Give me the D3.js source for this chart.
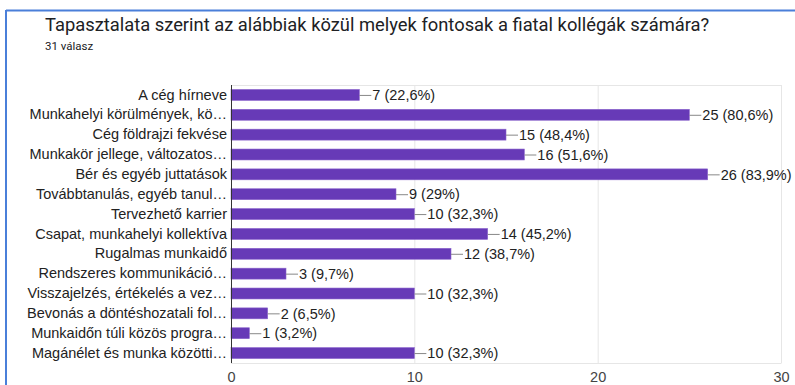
<!DOCTYPE html>
<html>
<head>
<meta charset="utf-8">
<script src="https://cdn.jsdelivr.net/npm/d3@7/dist/d3.min.js"></script>
<style>
  html, body { margin: 0; padding: 0; background: #fff; }
  svg { display: block; }
</style>
</head>
<body>
<svg id="chart" width="795" height="385"></svg>
<script>
const title = "Tapasztalata szerint az alábbiak közül melyek fontosak a fiatal kollégák számára?";
const subtitle = "31 válasz";
const categories = [
  "A cég hírneve",
  "Munkahelyi körülmények, kö…",
  "Cég földrajzi fekvése",
  "Munkakör jellege, változatos…",
  "Bér és egyéb juttatások",
  "Továbbtanulás, egyéb tanul…",
  "Tervezhető karrier",
  "Csapat, munkahelyi kollektíva",
  "Rugalmas munkaidő",
  "Rendszeres kommunikáció…",
  "Visszajelzés, értékelés a vez…",
  "Bevonás a döntéshozatali fol…",
  "Munkaidőn túli közös progra…",
  "Magánélet és munka közötti…"
];
const counts = [7, 25, 15, 16, 26, 9, 10, 14, 12, 3, 10, 2, 1, 10];
const percents = ["22,6", "80,6", "48,4", "51,6", "83,9", "29", "32,3", "45,2", "38,7", "9,7", "32,3", "6,5", "3,2", "32,3"];
const xTicks = [0, 10, 20, 30];

const svg = d3.select("#chart");
const headFont = "Roboto, 'Liberation Sans', Arial, sans-serif";
const font = "'Liberation Sans', Arial, Helvetica, sans-serif";

// card frame: blue rule along the top and left edges
svg.append("line").attr("x1", 6).attr("x2", 795).attr("y1", 10.5).attr("y2", 10.5)
  .attr("stroke", "#4a7fd9").attr("stroke-width", 2);
svg.append("line").attr("x1", 6).attr("x2", 6).attr("y1", 10).attr("y2", 385)
  .attr("stroke", "#4a7fd9").attr("stroke-width", 2);

svg.append("text").attr("x", 45).attr("y", 31)
  .attr("font-family", headFont).attr("font-size", 18.35).attr("fill", "#202124")
  .text(title);
svg.append("text").attr("x", 45).attr("y", 50)
  .attr("font-family", headFont).attr("font-size", 11.5).attr("fill", "#202124")
  .text(subtitle);

const plotLeft = 231, plotRight = 781, plotTop = 85, plotBottom = 363;
const x = d3.scaleLinear().domain([0, 30]).range([plotLeft, plotRight]);
const y = d3.scaleBand().domain(categories).range([plotTop, plotBottom]).paddingInner(0.45).paddingOuter(0.225);

// grid
svg.append("g").selectAll("line").data(xTicks.slice(1)).join("line")
  .attr("x1", d => x(d) + 0.5).attr("x2", d => x(d) + 0.5)
  .attr("y1", plotTop).attr("y2", plotBottom)
  .attr("stroke", "#e6e6e6").attr("stroke-width", 1);
svg.append("line").attr("x1", plotLeft).attr("x2", plotRight + 0.5).attr("y1", plotTop + 0.5).attr("y2", plotTop + 0.5)
  .attr("stroke", "#e6e6e6");
svg.append("line").attr("x1", plotLeft).attr("x2", plotRight + 0.5).attr("y1", plotBottom + 0.5).attr("y2", plotBottom + 0.5)
  .attr("stroke", "#e6e6e6");

// bars
svg.append("g").selectAll("rect").data(categories).join("rect")
  .attr("x", plotLeft)
  .attr("y", d => y(d))
  .attr("width", (d, i) => x(counts[i]) - plotLeft)
  .attr("height", y.bandwidth())
  .attr("fill", "#673ab7")
  .attr("stroke", "#8a63cc").attr("stroke-width", 0.6);

// left axis line
svg.append("line").attr("x1", plotLeft + 0.5).attr("x2", plotLeft + 0.5).attr("y1", plotTop).attr("y2", plotBottom)
  .attr("stroke", "#333").attr("stroke-width", 1);

// category labels
const yAxis = d3.axisLeft(y).tickSize(0).tickPadding(4);
const yg = svg.append("g").attr("transform", `translate(${plotLeft},0)`).call(yAxis);
yg.select(".domain").remove();
yg.selectAll("text").attr("font-family", font).attr("font-size", 14.5).attr("fill", "#222");

// value labels with leader line
const lab = svg.append("g").selectAll("g").data(categories).join("g")
  .attr("transform", (d, i) => `translate(${x(counts[i])},${y(d) + y.bandwidth() / 2})`);
lab.append("line").attr("x1", 0).attr("x2", 12).attr("y1", 0.5).attr("y2", 0.5)
  .attr("stroke", "#888").attr("stroke-width", 1);
lab.append("text").attr("x", 13).attr("dy", "0.36em")
  .attr("font-family", font).attr("font-size", 14.5).attr("fill", "#222")
  .text((d, i) => `${counts[i]} (${percents[i]}%)`);

// x axis labels
const xAxis = d3.axisBottom(x).tickValues(xTicks).tickSize(0).tickPadding(0);
const xg = svg.append("g").attr("transform", `translate(0,${plotBottom + 22})`).call(xAxis);
xg.select(".domain").remove();
xg.selectAll("text").attr("font-family", font).attr("font-size", 14.5).attr("fill", "#444").attr("dy", "-0.2em");
</script>
</body>
</html>
